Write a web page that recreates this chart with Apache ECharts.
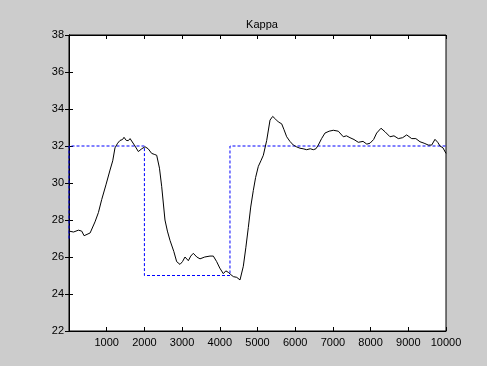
<!DOCTYPE html>
<html>
<head>
<meta charset="utf-8">
<script src="https://cdn.jsdelivr.net/npm/echarts@6/dist/echarts.min.js"></script>
<style>
  html, body { margin: 0; padding: 0; background: #cccccc; }
  #chart { width: 487px; height: 366px; }
</style>
</head>
<body>
<div id="chart"></div>
<script>
// measured kappa (black line)
const kappaX = [0, 120, 250, 337, 400, 451, 560, 690, 780, 867, 980, 1088, 1160, 1220, 1290, 1353, 1420, 1459, 1520, 1574, 1620,
  1663, 1750, 1839, 1930, 2016, 2100, 2193, 2260, 2326, 2400, 2459, 2546, 2610, 2679, 2780, 2856, 2944, 3010, 3077, 3120, 3165,
  3230, 3297, 3390, 3475, 3600, 3740, 3828, 3917, 4000, 4093, 4160, 4226, 4290, 4359, 4450, 4536, 4624, 4690, 4757, 4820, 4889,
  4950, 5022, 5090, 5155, 5244, 5332, 5403, 5480, 5553, 5641, 5700, 5774, 5860, 5951, 6040, 6127, 6210, 6304, 6400, 6481, 6550,
  6613, 6700, 6790, 6900, 7011, 7143, 7276, 7360, 7453, 7560, 7674, 7800, 7900, 7984, 8080, 8161, 8276, 8382, 8515, 8620, 8735,
  8850, 8957, 9090, 9200, 9310, 9420, 9531, 9620, 9708, 9780, 9841, 9920, 10000]
const kappaY = [27.4, 27.35, 27.45, 27.4, 27.15, 27.05, 27.3, 27.9, 28.4, 29.1, 29.9, 30.7, 31.2, 31.9, 32.15, 32.3, 32.35, 32.47, 32.3, 32.29, 32.4,
  32.4, 32.0, 31.7, 31.85, 31.96, 31.85, 31.6, 31.55, 31.5, 30.8, 29.8, 28.0, 27.4, 26.9, 26.3, 25.75, 25.6, 25.75, 26.0, 26.0, 25.8,
  26.05, 26.2, 26.0, 25.9, 26.0, 26.05, 26.05, 25.75, 25.4, 25.1, 25.25, 25.17, 25.05, 24.94, 24.9, 24.76, 25.5, 26.5, 27.6, 28.7, 29.6,
  30.3, 30.9, 31.2, 31.5, 32.3, 33.4, 33.6, 33.45, 33.3, 33.2, 32.9, 32.5, 32.25, 32.05, 31.95, 31.88, 31.85, 31.8, 31.85, 31.8, 31.85,
  32.05, 32.4, 32.7, 32.8, 32.85, 32.8, 32.5, 32.55, 32.45, 32.35, 32.2, 32.25, 32.1, 32.15, 32.35, 32.7, 32.96, 32.77, 32.5, 32.55, 32.4,
  32.45, 32.6, 32.4, 32.4, 32.23, 32.15, 32.05, 32.05, 32.36, 32.2, 32.0, 31.9, 31.6]

// reference step (blue dashed)
const refX = [0, 0, 2000, 2000, 4270, 4270, 10000]
const refY = [27, 32, 32, 25, 25, 32, 32]

const xTicks = { min: 0, max: 10000, interval: 1000 }
const yTicks = { min: 22, max: 38, interval: 2 }

const kappa = kappaX.map((x, i) => [x, kappaY[i]])
const ref = refX.map((x, i) => [x, refY[i]])

const font = { fontFamily: 'Liberation Sans, Arial, sans-serif', fontSize: 11, color: '#000' }
const tick = { show: true, inside: true, length: 4, lineStyle: { color: '#000' } }
const line = { show: true, lineStyle: { color: '#000', width: 1 } }

const chart = echarts.init(document.getElementById('chart'), null, { renderer: 'canvas' })
chart.setOption({
  backgroundColor: '#cccccc',
  animation: false,
  title: {
    text: 'Kappa', left: 257, top: 14, textAlign: 'center',
    textStyle: { ...font, fontWeight: 'normal' }
  },
  grid: {
    left: 69, right: 41, top: 35, bottom: 35,
    show: true, backgroundColor: '#ffffff', borderColor: '#000', borderWidth: 1
  },
  xAxis: [
    {
      type: 'value', ...xTicks, position: 'bottom',
      axisLine: line, axisTick: tick, splitLine: { show: false },
      axisLabel: { ...font, margin: 6, formatter: v => v === 0 ? '' : String(v) }
    },
    {
      type: 'value', ...xTicks, position: 'top',
      axisLine: line, axisTick: tick, splitLine: { show: false }, axisLabel: { show: false }
    }
  ],
  yAxis: [
    {
      type: 'value', ...yTicks, position: 'left',
      axisLine: line, axisTick: tick, splitLine: { show: false },
      axisLabel: { ...font, margin: 5 }
    },
    {
      type: 'value', ...yTicks, position: 'right',
      axisLine: line, axisTick: tick, splitLine: { show: false }, axisLabel: { show: false }
    }
  ],
  series: [
    {
      name: 'reference', type: 'line', data: ref, showSymbol: false,
      lineStyle: { color: '#0000ff', width: 1, type: [3, 2] }
    },
    {
      name: 'kappa', type: 'line', data: kappa, showSymbol: false,
      lineStyle: { color: '#000000', width: 1 }
    }
  ]
})
</script>
</body>
</html>
